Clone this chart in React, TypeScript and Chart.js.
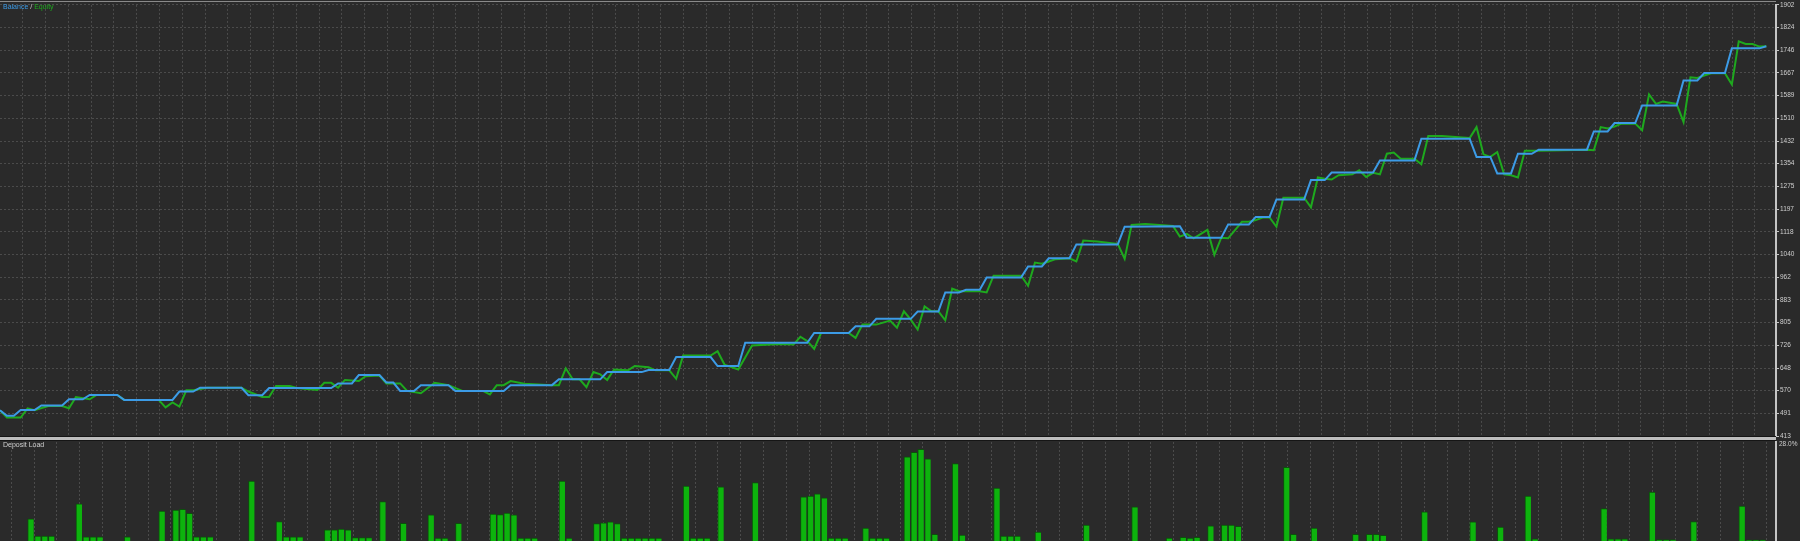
import React, { useEffect, useRef } from "react";
import { Chart, registerables } from "chart.js";

Chart.register(...registerables);

// ---- data -------------------------------------------------------------

// Number of deals spanned by the horizontal axis.
const TRADE_COUNT = 257.4;

// Balance curve: deal number and account balance at each vertex.
const balanceDeal = [
  0, 1, 2, 3, 5, 6, 9, 10, 12, 13, 17, 18, 25, 26, 28, 29, 35, 36, 38, 39,
  48, 49, 51, 52, 55, 56, 57, 58, 60, 61, 65, 66, 73, 74, 80, 81, 87, 88, 93, 94,
  97, 98, 103, 104, 107, 108, 117, 118, 123, 124, 126, 127, 132, 133, 136, 137, 139, 140, 142, 143,
  148, 149, 151, 152, 155, 156, 162, 163, 171, 172, 177, 178, 181, 182, 184, 185, 189, 190, 192, 193,
  199, 200, 205, 206, 213, 214, 216, 217, 219, 220, 222, 223, 230, 231, 233, 234, 237, 238, 243, 244,
  246, 247, 250, 251, 255, 256,
];
const balanceValue = [
  502, 483, 483, 503, 503, 519, 519, 540, 540, 555, 555, 538, 538, 567, 567, 580, 580, 554, 554, 579,
  579, 595, 595, 624, 624, 598, 598, 569, 569, 589, 589, 569, 569, 589, 589, 609, 609, 634, 634, 641,
  641, 686, 686, 655, 655, 735, 735, 769, 769, 792, 792, 818, 818, 843, 843, 909, 909, 918, 918, 961,
  961, 999, 999, 1027, 1027, 1075, 1075, 1136, 1138, 1098, 1098, 1144, 1144, 1170, 1170, 1230, 1230, 1297, 1297, 1323,
  1323, 1365, 1365, 1440, 1440, 1377, 1377, 1320, 1320, 1388, 1388, 1402, 1402, 1465, 1465, 1494, 1494, 1555, 1555, 1641,
  1641, 1667, 1667, 1752, 1752, 1759,
];

// Equity curve: deal number and floating equity at each vertex.
const equityDeal = [
  0, 1, 3, 4, 5, 7, 9, 10, 11, 13, 14, 17, 18, 23, 24, 25, 26, 27, 28, 30,
  35, 36, 38, 39, 40, 42, 43, 46, 47, 48, 49, 50, 52, 53, 55, 56, 58, 59, 61, 63,
  65, 67, 70, 71, 72, 73, 74, 76, 80, 81, 82, 83, 84, 85, 86, 87, 88, 89, 91, 92,
  94, 95, 97, 98, 99, 103, 104, 105, 107, 109, 113, 115, 116, 117, 118, 119, 123, 124, 125, 127,
  129, 130, 131, 132, 133, 134, 135, 136, 137, 138, 139, 142, 143, 144, 148, 149, 150, 151, 152, 153,
  155, 156, 157, 159, 162, 163, 164, 166, 170, 171, 172, 173, 175, 176, 177, 178, 180, 181, 182, 183,
  184, 185, 186, 189, 190, 191, 192, 193, 194, 196, 197, 198, 199, 200, 201, 202, 203, 205, 206, 207,
  209, 213, 214, 215, 216, 217, 218, 219, 220, 221, 223, 230, 231, 232, 233, 234, 235, 237, 238, 239,
  240, 241, 243, 244, 245, 246, 247, 248, 250, 251, 252, 253, 254, 255, 256,
];
const equityValue = [
  502, 477, 477, 509, 502, 517, 517, 509, 548, 540, 555, 555, 538, 538, 512, 529, 515, 571, 571, 580,
  580, 567, 548, 548, 586, 586, 579, 572, 597, 597, 580, 607, 603, 620, 622, 595, 595, 569, 561, 597,
  589, 569, 569, 557, 589, 589, 603, 594, 589, 589, 647, 609, 609, 582, 634, 626, 607, 643, 640, 655,
  651, 640, 640, 611, 691, 691, 706, 660, 643, 726, 731, 729, 756, 741, 714, 769, 769, 752, 798, 798,
  812, 787, 844, 815, 781, 861, 844, 844, 813, 922, 913, 913, 909, 967, 967, 932, 1012, 1008, 1016, 1024,
  1027, 1016, 1088, 1085, 1077, 1025, 1142, 1145, 1139, 1102, 1111, 1096, 1125, 1039, 1098, 1096, 1153, 1153, 1159, 1168,
  1168, 1136, 1236, 1236, 1203, 1306, 1302, 1299, 1314, 1317, 1331, 1308, 1322, 1317, 1388, 1392, 1371, 1371, 1352, 1449,
  1449, 1442, 1480, 1386, 1377, 1394, 1317, 1314, 1306, 1398, 1398, 1402, 1400, 1480, 1475, 1482, 1492, 1492, 1469, 1593,
  1560, 1568, 1560, 1497, 1652, 1650, 1658, 1666, 1666, 1627, 1776, 1767, 1767, 1758, 1759,
];

// Deposit load (% of deposit used as margin) for each deal that carried a load.
const loadDeal = [
  4, 5, 6, 7, 11, 12, 13, 14, 18, 23, 25, 26, 27, 28, 29, 30, 36, 40, 41, 42,
  43, 47, 48, 49, 50, 51, 52, 53, 55, 58, 62, 63, 64, 66, 71, 72, 73, 74, 75, 76,
  77, 81, 82, 86, 87, 88, 89, 90, 91, 92, 93, 94, 95, 99, 100, 101, 102, 104, 109, 116,
  117, 118, 119, 120, 121, 122, 125, 126, 127, 128, 131, 132, 133, 134, 135, 138, 139, 144, 145, 146,
  147, 150, 157, 164, 169, 171, 172, 173, 175, 177, 178, 179, 186, 187, 190, 196, 198, 199, 200, 206,
  213, 217, 221, 222, 232, 233, 234, 235, 239, 240, 241, 242, 245, 252, 253, 254, 255,
];
const loadPercent = [
  7.1, 2.4, 2.4, 2.4, 11.2, 2.2, 2.2, 2.2, 2.2, 9.2, 9.5, 9.7, 8.6, 2.2, 2.2, 2.2, 17.4, 6.4, 2.2, 2.2,
  2.2, 4.1, 4.1, 4.3, 4.1, 2.0, 2.0, 2.0, 11.8, 5.9, 8.2, 1.9, 1.9, 5.9, 8.4, 8.3, 8.7, 8.2, 1.9, 1.9,
  1.9, 17.4, 1.9, 5.8, 6.0, 6.3, 5.8, 1.9, 1.9, 1.9, 1.9, 1.9, 1.9, 16.0, 1.9, 1.9, 1.9, 15.8, 17.0, 13.1,
  13.3, 13.9, 12.8, 1.9, 1.9, 1.9, 4.6, 1.9, 1.9, 1.9, 24.0, 25.2, 26.0, 23.4, 2.9, 22.1, 2.7, 15.5, 2.4, 2.4,
  2.4, 3.5, 5.4, 10.4, 1.9, 2.1, 1.9, 2.1, 5.2, 5.4, 5.4, 5.1, 21.1, 2.9, 4.6, 2.9, 2.9, 2.9, 2.6, 9.0,
  6.3, 4.9, 13.3, 1.7, 9.9, 1.7, 1.7, 1.7, 14.4, 1.5, 1.5, 1.5, 6.4, 10.6, 1.4, 1.4, 1.4,
];

// Price-axis labels, top to bottom.
const priceTicks = [
  1902, 1824, 1746, 1667, 1589, 1510, 1432, 1354, 1275, 1197,
  1118, 1040, 962, 883, 805, 726, 648, 570, 491, 413,
];
const LOAD_MAX = 28;

// ---- look -------------------------------------------------------------

const BG = "#2a2a2a";
const GRID = "#4b4b4b";
const AXIS = "#c4c4c4";
const TEXT = "#cfcfcf";
const BLUE = "#3c9be6";
const GREEN = "#1ea91e";
const BAR = "#0db30d";
const BAR_EDGE = "#0a520a";

const W = 1800;
const PLOT_RIGHT = 1776; // x of the price axis line
const AXIS_W = W - PLOT_RIGHT;
const TOP_H = 441; // height of the balance/equity canvas
const LOW_TOP = 441; // page y of the load canvas
const LOW_H = 104; // load canvas (zero line sits just below the visible page)
const GRID_PX = 22.79; // grid cell size in pixels
const BAR_LEAD = 0.45; // load bars sit just right of their deal
const FONT = '"Liberation Sans", Arial, sans-serif';

const dealsPerGrid = GRID_PX / (PLOT_RIGHT / TRADE_COUNT);

function verticalGrid(scale: any) {
  const ticks: { value: number }[] = [];
  for (let v = dealsPerGrid; v < scale.max; v += dealsPerGrid) ticks.push({ value: v });
  scale.ticks = ticks;
}

export default function App() {
  const topRef = useRef<HTMLCanvasElement | null>(null);
  const lowRef = useRef<HTMLCanvasElement | null>(null);

  useEffect(() => {
    document.body.style.margin = "0";
    document.body.style.background = BG;

    const top = new Chart(topRef.current as HTMLCanvasElement, {
      type: "line",
      data: {
        datasets: [
          {
            label: "Balance",
            data: balanceDeal.map((x, i) => ({ x, y: balanceValue[i] })),
            borderColor: BLUE,
            borderWidth: 2,
            pointRadius: 0,
            tension: 0,
            order: 0,
          },
          {
            label: "Equity",
            data: equityDeal.map((x, i) => ({ x, y: equityValue[i] })),
            borderColor: GREEN,
            borderWidth: 2,
            pointRadius: 0,
            tension: 0,
            order: 1,
          },
        ],
      },
      options: {
        animation: false,
        responsive: false,
        maintainAspectRatio: false,
        events: [],
        layout: { padding: { top: 4, bottom: 4, left: 0, right: 0 } },
        plugins: { legend: { display: false }, tooltip: { enabled: false } },
        scales: {
          x: {
            type: "linear",
            min: 0,
            max: TRADE_COUNT,
            ticks: { display: false },
            grid: { color: GRID, lineWidth: 1, drawTicks: false },
            border: { display: false, dash: [2, 2] },
            afterBuildTicks: verticalGrid,
            afterFit: (s: any) => {
              s.height = 0;
            },
          },
          y: {
            position: "right",
            min: priceTicks[priceTicks.length - 1],
            max: priceTicks[0],
            afterBuildTicks: (s: any) => {
              s.ticks = priceTicks.map((value) => ({ value }));
            },
            ticks: {
              color: TEXT,
              padding: 1,
              font: { family: FONT, size: 6.5 },
              callback: (v: any) => String(v),
            },
            grid: { color: GRID, lineWidth: 1, tickLength: 3, tickColor: AXIS },
            border: { display: true, color: AXIS, width: 2, dash: [2, 2] },
            afterFit: (s: any) => {
              s.width = AXIS_W;
            },
          },
        },
      },
    });

    const low = new Chart(lowRef.current as HTMLCanvasElement, {
      type: "bar",
      data: {
        datasets: [
          {
            label: "Deposit Load",
            data: loadDeal.map((d, i) => ({ x: d + BAR_LEAD, y: loadPercent[i] })),
            backgroundColor: BAR,
            borderColor: BAR_EDGE,
            borderWidth: { top: 1, left: 1, right: 0, bottom: 0 },
            borderSkipped: false,
            barThickness: 6,
          },
        ],
      },
      options: {
        animation: false,
        responsive: false,
        maintainAspectRatio: false,
        events: [],
        layout: { padding: { top: 1, bottom: 0, left: 0, right: 0 } },
        plugins: { legend: { display: false }, tooltip: { enabled: false } },
        scales: {
          x: {
            type: "linear",
            min: 0,
            max: TRADE_COUNT,
            offset: false,
            ticks: { display: false },
            grid: { color: GRID, lineWidth: 1, drawTicks: false },
            border: { display: false, dash: [2, 2] },
            afterBuildTicks: verticalGrid,
            afterFit: (s: any) => {
              s.height = 0;
            },
          },
          y: {
            position: "right",
            min: 0,
            max: LOAD_MAX,
            ticks: { display: false },
            grid: { display: false },
            border: { display: true, color: AXIS, width: 2 },
            afterFit: (s: any) => {
              s.width = AXIS_W;
            },
          },
        },
      },
    });

    return () => {
      top.destroy();
      low.destroy();
    };
  }, []);

  const small: React.CSSProperties = {
    position: "absolute",
    fontFamily: FONT,
    fontSize: 7,
    lineHeight: "8px",
    whiteSpace: "nowrap",
  };

  return (
    <div
      style={{
        position: "relative",
        width: W,
        height: 541,
        overflow: "hidden",
        background: BG,
      }}
    >
      <canvas
        ref={topRef}
        width={W}
        height={TOP_H}
        style={{ position: "absolute", left: 0, top: 0, width: W, height: TOP_H }}
      />
      <canvas
        ref={lowRef}
        width={W}
        height={LOW_H}
        style={{ position: "absolute", left: 0, top: LOW_TOP, width: W, height: LOW_H }}
      />
      {/* frame line along the top of the price panel */}
      <div style={{ position: "absolute", left: 0, top: 1, width: PLOT_RIGHT, height: 1, background: "#8a8a8a" }} />
      {/* splitter between the price panel and the load panel */}
      <div style={{ position: "absolute", left: 0, top: 436, width: PLOT_RIGHT, height: 1, background: "#151515" }} />
      <div style={{ position: "absolute", left: 0, top: 437, width: PLOT_RIGHT, height: 3, background: "#bdbdbd" }} />
      <div style={{ position: "absolute", left: 0, top: 440, width: PLOT_RIGHT, height: 1, background: "#151515" }} />

      <div style={{ ...small, left: 3, top: 3 }}>
        <span style={{ color: BLUE }}>Balance</span>
        <span style={{ color: TEXT }}> / </span>
        <span style={{ color: GREEN }}>Equity</span>
      </div>
      <div style={{ ...small, left: 3, top: 441, color: TEXT }}>Deposit Load</div>
      <div style={{ ...small, left: PLOT_RIGHT + 3, top: 440, color: TEXT, fontSize: 6.5 }}>28.0%</div>
    </div>
  );
}
